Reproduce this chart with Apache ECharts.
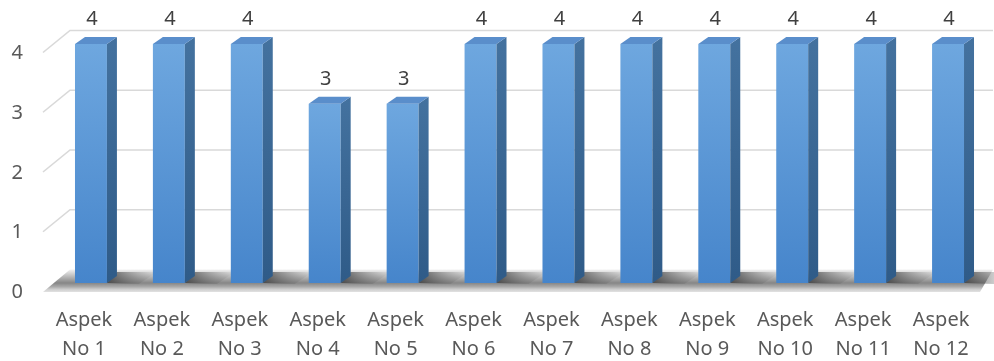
<!DOCTYPE html>
<html>
<head>
<meta charset="utf-8">
<script src="https://cdn.jsdelivr.net/npm/echarts@6/dist/echarts.min.js"></script>
<style>
  html, body { margin: 0; padding: 0; background: #ffffff; }
  #chart { width: 994px; height: 361px; }
</style>
</head>
<body>
<div id="chart"></div>
<script>
// Categories (one per column) and their scores
const categories = [
  'Aspek\nNo 1', 'Aspek\nNo 2', 'Aspek\nNo 3', 'Aspek\nNo 4', 'Aspek\nNo 5', 'Aspek\nNo 6',
  'Aspek\nNo 7', 'Aspek\nNo 8', 'Aspek\nNo 9', 'Aspek\nNo 10', 'Aspek\nNo 11', 'Aspek\nNo 12'
];
const values = [4, 4, 4, 3, 3, 4, 4, 4, 4, 4, 4, 4];
const yTicks = [0, 1, 2, 3, 4];

const FONT = '"Noto Sans", "Liberation Sans", sans-serif';
const TEXT = '#595959';

// Perspective offsets of the pseudo-3D scene (pixels)
const DEPTH_X = 10, DEPTH_Y = -7;          // column side / top depth
const WALL_BACK = { dx: 18, dy: -13.5 };   // back wall relative to column front plane
const WALL_FRONT = { dx: -9, dy: 8.5 };    // front edge of floor/side wall

const chart = echarts.init(document.getElementById('chart'), null, { renderer: 'canvas' });

function sceneBounds(api, v) {
  const band = api.size([1, 0])[0];
  const p = api.coord([0, v]);
  const q = api.coord([categories.length - 1, v]);
  return { left: p[0] - band / 2, right: q[0] + band / 2, y: p[1] };
}

// Back wall gridlines and the floor
function renderWall(params, api) {
  const v = api.value(1);
  const b = sceneBounds(api, v);
  const fx = b.left + WALL_FRONT.dx, fy = b.y + WALL_FRONT.dy;
  const bx = b.left + WALL_BACK.dx, by = b.y + WALL_BACK.dy;
  const rx = b.right + 6;
  if (v === 0) {
    return {
      type: 'polygon',
      shape: { points: [[fx, fy + 0.5], [bx, by], [rx, by], [rx - 13, fy + 0.5]] },
      style: {
        fill: new echarts.graphic.LinearGradient(0, 0, 0, 1, [
          { offset: 0, color: '#f2f2f2' },
          { offset: 0.3, color: '#bcbcbc' },
          { offset: 0.6, color: '#868686' },
          { offset: 0.76, color: '#a8a8a8' },
          { offset: 0.88, color: '#cdcdcd' },
          { offset: 1, color: '#e2e2e2' }
        ])
      }
    };
  }
  return {
    type: 'polyline',
    shape: { points: [[fx, fy], [bx, by], [rx, by]] },
    style: { stroke: '#d9d9d9', lineWidth: 1.6, fill: null }
  };
}

// Columns with front, side and top faces plus a soft floor shadow
function renderColumn(params, api) {
  const idx = api.value(0);
  const v = api.value(1);
  const top = api.coord([idx, v]);
  const base = api.coord([idx, 0]);
  const band = api.size([1, 0])[0];
  const w = band * 0.41;
  const x0 = top[0] - w / 2, x1 = top[0] + w / 2;
  const yt = top[1], yb = base[1];

  const shadow = {
    type: 'polygon',
    shape: { points: [[x1, yb], [x1 + DEPTH_X, yb + DEPTH_Y - 4], [x1 + 50, yb + DEPTH_Y - 4], [x1 + 32, yb + 1]] },
    style: {
      fill: new echarts.graphic.LinearGradient(0, 0, 1, 0, [
        { offset: 0, color: 'rgba(60,60,60,0.8)' },
        { offset: 1, color: 'rgba(120,120,120,0)' }
      ])
    }
  };
  const front = {
    type: 'rect',
    shape: { x: x0, y: yt, width: w, height: yb - yt },
    style: {
      fill: new echarts.graphic.LinearGradient(0, 0, 0, 1, [
        { offset: 0, color: '#6ea7df' },
        { offset: 1, color: '#4685cb' }
      ])
    }
  };
  const side = {
    type: 'polygon',
    shape: { points: [[x1, yt], [x1 + DEPTH_X, yt + DEPTH_Y], [x1 + DEPTH_X, yb + DEPTH_Y], [x1, yb]] },
    style: {
      fill: new echarts.graphic.LinearGradient(0, 0, 0, 1, [
        { offset: 0, color: '#44729f' },
        { offset: 1, color: '#2f5b88' }
      ])
    }
  };
  const cap = {
    type: 'polygon',
    shape: { points: [[x0, yt], [x0 + DEPTH_X, yt + DEPTH_Y], [x1 + DEPTH_X, yt + DEPTH_Y], [x1, yt]] },
    style: { fill: '#5a8ecb' }
  };
  const label = {
    type: 'text',
    style: {
      text: String(v),
      x: top[0] + 1,
      y: yt - 24.5,
      align: 'center',
      verticalAlign: 'middle',
      fill: '#404040',
      font: '20px ' + FONT
    }
  };
  return { type: 'group', children: [shadow, front, side, cap, label] };
}

const option = {
  backgroundColor: '#ffffff',
  animation: false,
  grid: { left: 52, right: 7, top: 44, bottom: 78, containLabel: false, outerBoundsMode: 'none' },
  xAxis: {
    type: 'category',
    data: categories,
    axisLine: { show: false },
    axisTick: { show: false },
    splitLine: { show: false },
    axisLabel: {
      interval: 0,
      margin: 23,
      color: TEXT,
      fontFamily: FONT,
      fontSize: 20,
      lineHeight: 29,
      padding: [0, 14, 0, 0]
    }
  },
  yAxis: {
    type: 'value',
    min: yTicks[0],
    max: yTicks[yTicks.length - 1],
    interval: 1,
    axisLine: { show: false },
    axisTick: { show: false },
    splitLine: { show: false },
    axisLabel: {
      margin: 29,
      color: TEXT,
      fontFamily: FONT,
      fontSize: 20,
      verticalAlign: 'top',
      lineHeight: 19
    }
  },
  series: [
    {
      type: 'custom',
      name: 'wall',
      renderItem: renderWall,
      data: yTicks.map(t => [0, t]),
      silent: true,
      z: 1
    },
    {
      type: 'custom',
      name: 'Nilai',
      renderItem: renderColumn,
      data: values.map((v, i) => [i, v]),
      encode: { x: 0, y: 1 },
      z: 2
    }
  ]
};

chart.setOption(option);
</script>
</body>
</html>
